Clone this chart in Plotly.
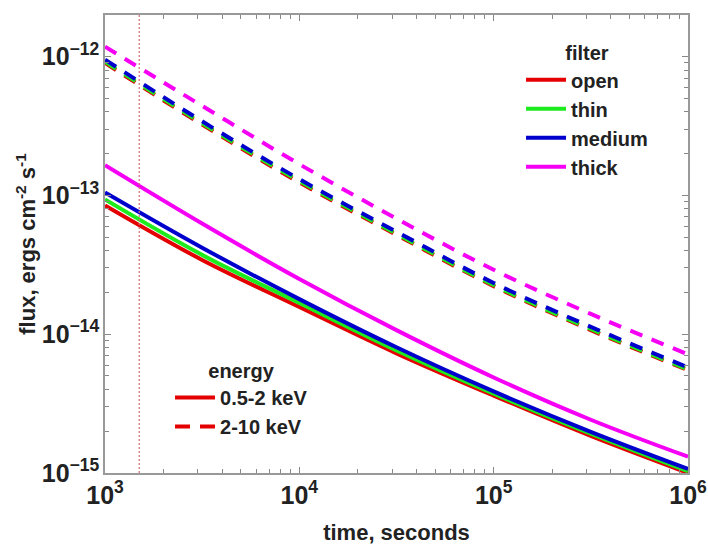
import plotly.graph_objects as go

# ---- data ----
time_s = [1e3, 3.16e3, 1e4, 3.16e4, 1e5, 3.16e5, 1e6]

soft_open   = [8.47e-14, 3.43e-14, 1.57e-14, 7.28e-15, 3.61e-15, 1.85e-15, 1.00e-15]
soft_thin   = [9.35e-14, 3.73e-14, 1.68e-14, 7.65e-15, 3.73e-15, 1.92e-15, 1.03e-15]
soft_medium = [1.05e-13, 4.20e-14, 1.79e-14, 8.05e-15, 3.87e-15, 1.98e-15, 1.07e-15]
soft_thick  = [1.65e-13, 6.27e-14, 2.50e-14, 1.07e-14, 4.88e-15, 2.42e-15, 1.31e-15]

hard_open   = [9.00e-13, 3.24e-13, 1.24e-13, 5.20e-14, 2.22e-14, 1.07e-14, 5.50e-15]
hard_thin   = [9.20e-13, 3.31e-13, 1.27e-13, 5.30e-14, 2.26e-14, 1.09e-14, 5.58e-15]
hard_medium = [9.51e-13, 3.42e-13, 1.31e-13, 5.48e-14, 2.34e-14, 1.13e-14, 5.77e-15]
hard_thick  = [1.18e-12, 4.42e-13, 1.68e-13, 6.81e-14, 2.91e-14, 1.40e-14, 7.16e-15]

filters = ["open", "thin", "medium", "thick"]
energies = ["0.5-2 keV", "2-10 keV"]
marker_time = 1500
y_limits = [1e-15, 2.0e-12]

x_exponents = [3, 4, 5, 6]
y_exponents = [-15, -14, -13, -12]
minor_mult = [2, 3, 4, 5, 6, 7, 8, 9]

colors = {"open": "rgb(228,0,0)", "thin": "rgb(30,235,30)",
          "medium": "rgb(0,0,205)", "thick": "rgb(245,0,245)"}

soft = {"open": soft_open, "thin": soft_thin, "medium": soft_medium, "thick": soft_thick}
hard = {"open": hard_open, "thin": hard_thin, "medium": hard_medium, "thick": hard_thick}

fig = go.Figure()

# vertical dotted marker line (drawn on the minor-tick overlay axes, same scales)
fig.add_trace(go.Scatter(x=[marker_time, marker_time], y=y_limits, mode="lines",
                         xaxis="x2", yaxis="y2",
                         line=dict(color="rgb(210,110,120)", width=1.2, dash="2px,2px"),
                         showlegend=False, hoverinfo="skip"))

LW = 4
for f in filters:
    fig.add_trace(go.Scatter(x=time_s, y=hard[f], mode="lines", line_shape="spline",
                             line=dict(color=colors[f], width=LW, dash="13px,10px", smoothing=1),
                             showlegend=False))
for f in filters:
    fig.add_trace(go.Scatter(x=time_s, y=soft[f], mode="lines", line_shape="spline",
                             line=dict(color=colors[f], width=LW, smoothing=1),
                             showlegend=False))

# legend entries: filter
for f in filters:
    fig.add_trace(go.Scatter(x=[None], y=[None], mode="lines", name=f,
                             line=dict(color=colors[f], width=LW),
                             legend="legend", legendgroup="f_" + f))
# legend entries: energy
for e, d in zip(energies, ["solid", "15px,10px"]):
    fig.add_trace(go.Scatter(x=[None], y=[None], mode="lines", name=e,
                             line=dict(color=colors["open"], width=LW, dash=d),
                             legend="legend2", legendgroup="e_" + e))

font_b = dict(family="Liberation Sans, Arial, sans-serif", color="#222", weight="bold")
x_range = [x_exponents[0], x_exponents[-1]]
y_range = [y_exponents[0], -11.70]

major_common = dict(type="log", showgrid=False, zeroline=False, automargin=False,
                    showline=True, linecolor="#999", linewidth=1.5, mirror="allticks",
                    ticks="inside", ticklen=6, tickcolor="#888", tickwidth=1,
                    dtick=1, exponentformat="power",
                    tickfont=dict(size=20, **font_b))

x_minor = [m * 10 ** e for e in x_exponents[:-1] for m in minor_mult]
y_minor = [m * 10 ** e for e in range(-15, -11) for m in minor_mult]

minor_common = dict(type="log", automargin=False, showticklabels=False,
                    ticks="inside", ticklen=4, tickcolor="#888", tickwidth=1,
                    mirror="allticks", showline=False, showgrid=False, zeroline=False)

fig.update_layout(
    width=708, height=545,
    margin=dict(l=105, r=20, t=15, b=72, autoexpand=False),
    plot_bgcolor="white", paper_bgcolor="white",
    xaxis=dict(range=x_range,
               title=dict(text="time, seconds", font=dict(size=22, **font_b), standoff=22),
               **major_common),
    yaxis=dict(range=y_range,
               title=dict(text="flux, ergs cm<sup>-2</sup> s<sup>-1</sup>", font=dict(size=22, **font_b), standoff=0),
               **major_common),
    xaxis2=dict(range=x_range, overlaying="x", anchor="y2", side="bottom",
                tickvals=x_minor, **minor_common),
    yaxis2=dict(range=y_range, overlaying="y", anchor="x2", side="left",
                tickvals=y_minor, **minor_common),
    legend=dict(x=0.7136, y=0.958, xanchor="left", yanchor="top",
                bgcolor="rgba(0,0,0,0)", itemwidth=40, tracegroupgap=0,
                title=dict(text="filter", side="top center", font=dict(size=20, **font_b)),
                font=dict(size=20, **font_b)),
    legend2=dict(x=0.1115, y=0.264, xanchor="left", yanchor="top",
                 bgcolor="rgba(0,0,0,0)", itemwidth=40, tracegroupgap=0,
                 title=dict(text="energy", side="top center", font=dict(size=20, **font_b)),
                 font=dict(size=20, **font_b)),
    showlegend=True,
)

fig.write_html("out.html")
